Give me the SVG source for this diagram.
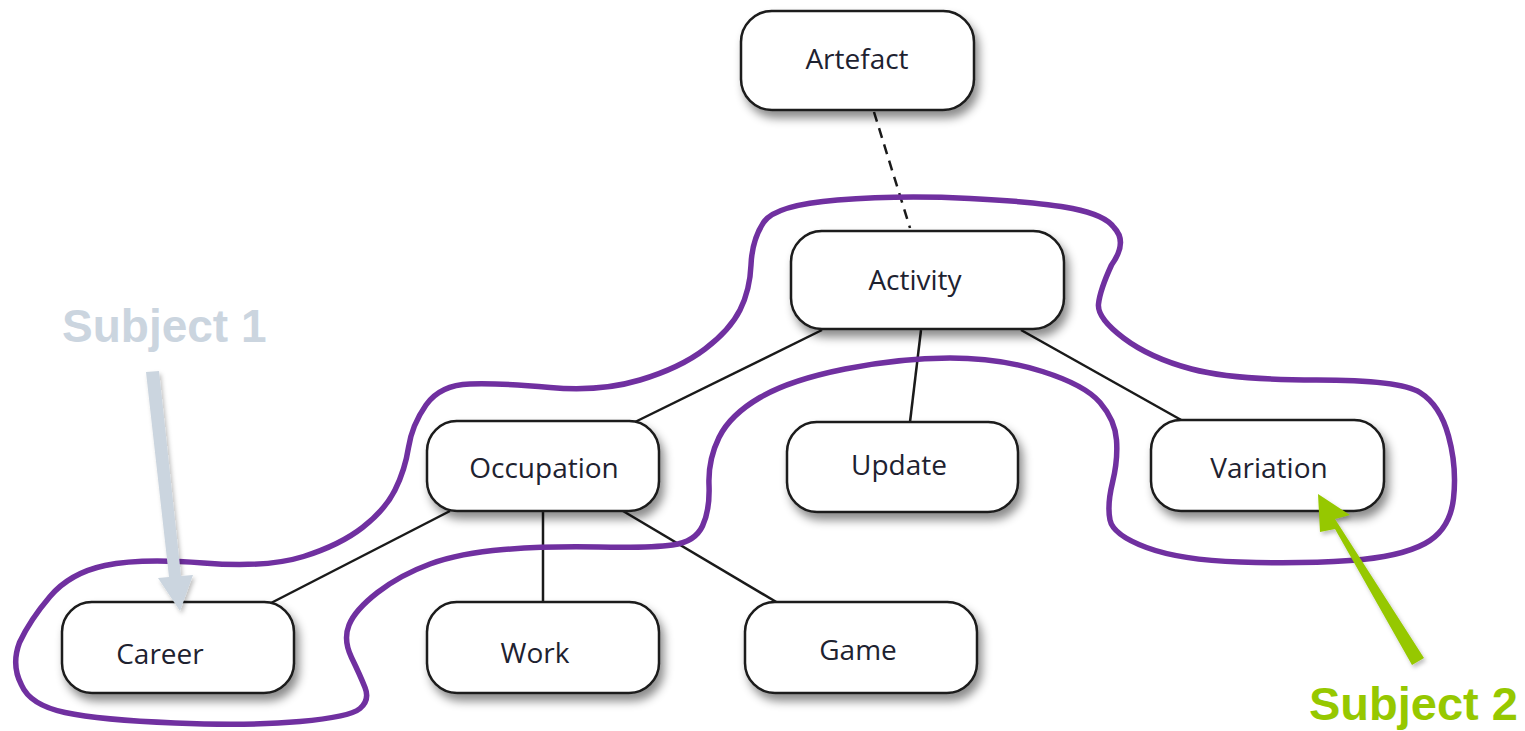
<svg xmlns="http://www.w3.org/2000/svg" width="1525" height="731" viewBox="0 0 1525 731">
<defs>
<filter id="sh" x="-20%" y="-20%" width="150%" height="170%">
<feDropShadow dx="4" dy="7" stdDeviation="5" flood-color="#000" flood-opacity="0.45"/>
</filter>
<filter id="sh2" x="-20%" y="-20%" width="150%" height="150%">
<feDropShadow dx="2" dy="3" stdDeviation="2" flood-color="#000" flood-opacity="0.25"/>
</filter>
</defs>
<style>
.box{fill:#fff;stroke:#1a1a1a;stroke-width:2.5}
.lbl{font-family:"Open Sans","Noto Sans",sans-serif;font-size:28px;fill:#1e2230;text-anchor:middle}
.edge{stroke:#1a1a1a;stroke-width:2.5;fill:none}
.subj{font-family:"Liberation Sans",Arial,sans-serif;font-weight:bold;font-size:46px}
</style>
<rect width="1525" height="731" fill="#fff"/>
<g id="connectors">
<line class="edge" x1="874" y1="112" x2="910" y2="228" stroke-dasharray="10,7"/>
<line class="edge" x1="822" y1="330" x2="635" y2="422"/>
<line class="edge" x1="921" y1="330" x2="910" y2="422"/>
<line class="edge" x1="1021" y1="330" x2="1183" y2="421"/>
<line class="edge" x1="450" y1="511" x2="271" y2="603"/>
<line class="edge" x1="543" y1="511" x2="543" y2="603"/>
<line class="edge" x1="623" y1="511" x2="778" y2="603"/>
</g>
<g id="artefact"><rect class="box" x="741" y="11" width="233" height="99" rx="31" filter="url(#sh)"/><text class="lbl" x="857" y="69">Artefact</text></g>
<g id="activity"><rect class="box" x="791" y="231" width="273" height="98" rx="31" filter="url(#sh)"/><text class="lbl" x="915" y="290">Activity</text></g>
<g id="occupation"><rect class="box" x="427" y="421" width="232" height="90" rx="30" filter="url(#sh)"/><text class="lbl" x="544" y="478">Occupation</text></g>
<g id="update"><rect class="box" x="787" y="422" width="231" height="90" rx="30" filter="url(#sh)"/><text class="lbl" x="899" y="475">Update</text></g>
<g id="variation"><rect class="box" x="1151" y="420" width="233" height="91" rx="30" filter="url(#sh)"/><text class="lbl" x="1269" y="478">Variation</text></g>
<g id="career"><rect class="box" x="62" y="602" width="232" height="91" rx="30" filter="url(#sh)"/><text class="lbl" x="160" y="664">Career</text></g>
<g id="work"><rect class="box" x="427" y="602" width="232" height="91" rx="30" filter="url(#sh)"/><text class="lbl" x="535" y="663">Work</text></g>
<g id="game"><rect class="box" x="745" y="602" width="232" height="91" rx="30" filter="url(#sh)"/><text class="lbl" x="858" y="660">Game</text></g>
<g id="enclosure">
<path fill="none" stroke="#7030a0" stroke-width="5.5" stroke-linejoin="round" d="M763.5,222.5 Q775,205 837.5,200 Q900,195 970,198.5 Q1040,202 1072.5,208.5 Q1105,215 1114,227.5 Q1128,242 1111.5,265 Q1100,290 1098.5,304 Q1097,318 1123.5,338 Q1150,358 1191.5,369 Q1233,380 1316.5,380 Q1400,380 1420,392.5 Q1440,405 1448.5,436 Q1457,467 1453.5,498.5 Q1450,530 1425,543.5 Q1400,557 1350,560.5 Q1300,564 1240,562 Q1180,560 1146.5,547.5 Q1113,535 1110,520 Q1107,505 1112.5,482.5 Q1118,460 1116.5,440 Q1115,420 1100,402.5 Q1085,385 1042.5,371.5 Q1000,358 950,358 Q900,358 845,369 Q790,380 760,397.5 Q730,415 719,437.5 Q708,460 709,485 Q710,510 702.5,526 Q695,542 672.5,545 Q650,548 598.5,547 Q547,546 503.5,549.5 Q460,553 430,564 Q400,575 377.5,592.5 Q355,610 349,625 Q343,640 351.5,657.5 Q360,675 365,687.5 Q370,700 360,708.5 Q350,717 300,721.5 Q250,726 175,723 Q100,720 65,712.5 Q30,705 21.5,685 Q11,665 19.5,642.5 Q30,620 50,596.5 Q70,573 105,565.5 Q140,558 203.5,563 Q267,568 303.5,556.5 Q340,545 362.5,527.5 Q385,510 395,490 Q405,470 408.5,447.5 Q412,425 426,405 Q440,385 470,384 Q500,383 550,387.5 Q600,392 640,380 Q680,368 705,349 Q730,330 740,310 Q750,290 751,265 Q752,240 763.5,222.5 Z"/>
</g>
<g id="subject1">
<text class="subj" x="62" y="342" fill="#cbd5df">Subject 1</text>
<g filter="url(#sh2)">
<polygon fill="#cbd5df" points="146,372 159,371 181,576 193,575 180,611 158,578 169,577"/>
</g>
</g>
<g id="subject2">
<text class="subj" x="1309" y="720" fill="#96c800" style="font-size:47px">Subject 2</text>
<g filter="url(#sh2)">
<polygon fill="#96c800" points="1424,658 1412,665 1335,529 1320,532 1318,494 1350,515 1335,519"/>
</g>
</g>
</svg>
